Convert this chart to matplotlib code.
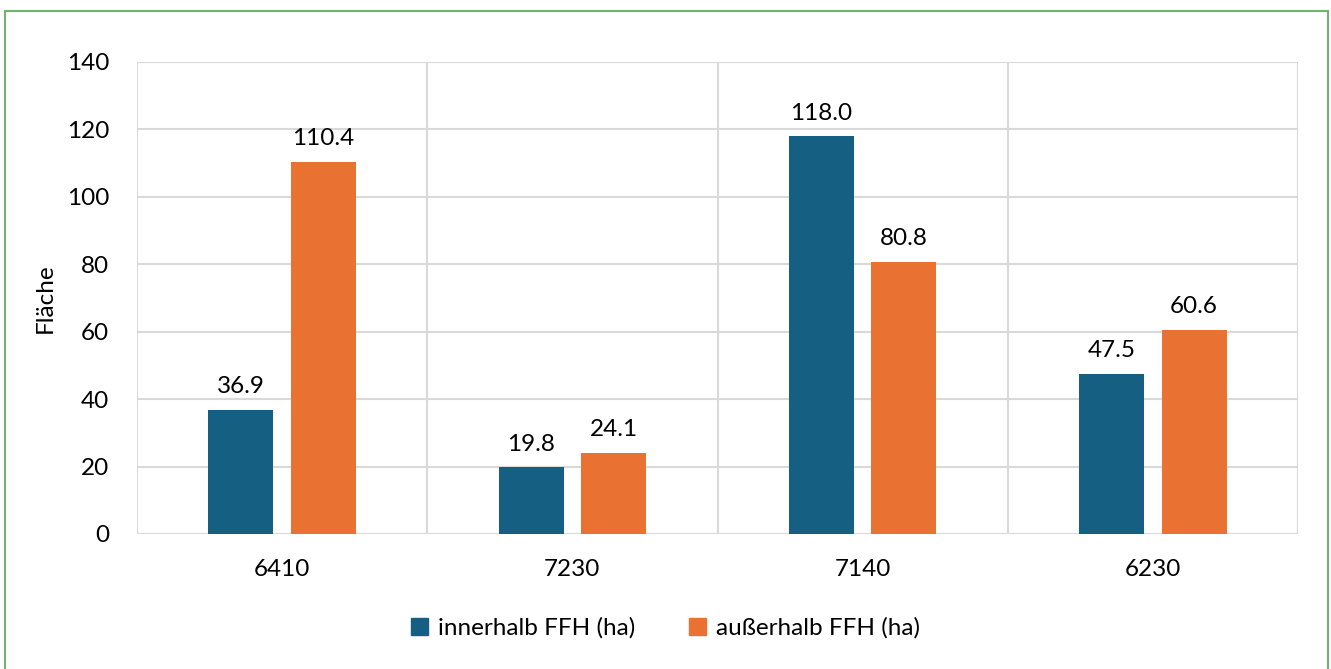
import matplotlib.pyplot as plt
import matplotlib.patches as mpatches
import numpy as np

plt.rcParams['font.family'] = ['Lato', 'DejaVu Sans']

categories = ['6410', '7230', '7140', '6230']
innerhalb = [36.9, 19.8, 118.0, 47.5]
ausserhalb = [110.4, 24.1, 80.8, 60.6]
series_names = ['innerhalb FFH (ha)', 'außerhalb FFH (ha)']
y_ticks = [0, 20, 40, 60, 80, 100, 120, 140]

blue = '#156082'
orange = '#E97132'
grid_color = '#D9D9D9'
fs = 17.5

fig = plt.figure(figsize=(13.31, 6.69), dpi=100)
ax = fig.add_axes([137 / 1331, (669 - 534) / 669, (1298 - 137) / 1331, (534 - 62) / 669])

x = np.arange(len(categories))
w = 0.224
off = 0.142
b1 = ax.bar(x - off, innerhalb, w, color=blue, label=series_names[0], zorder=3)
b2 = ax.bar(x + off, ausserhalb, w, color=orange, label=series_names[1], zorder=3)

for bars, vals in ((b1, innerhalb), (b2, ausserhalb)):
    for r, v in zip(bars, vals):
        ax.annotate(f'{v:.1f}', (r.get_x() + r.get_width() / 2, v),
                    xytext=(0, 9), textcoords='offset points',
                    ha='center', va='bottom', fontsize=fs, color='#000000')

ax.set_xlim(-0.5, len(categories) - 0.5)
ax.set_ylim(0, 140)
ax.set_yticks(y_ticks)
ax.set_yticklabels([str(t) for t in y_ticks], fontsize=fs)
ax.set_xticks(x)
ax.set_xticklabels(categories, fontsize=fs)
ax.tick_params(axis='both', length=0)
ax.tick_params(axis='x', pad=18)
ax.tick_params(axis='y', pad=20)

# horizontal grid plus vertical separators between categories
ax.yaxis.grid(True, color=grid_color, linewidth=1.5, zorder=0)
for b in np.arange(-0.5, len(categories), 1.0):
    ax.axvline(b, color=grid_color, linewidth=1.5, zorder=0)
for s in ax.spines.values():
    s.set_visible(False)
ax.axhline(0, color=grid_color, linewidth=1.5, zorder=1)

ax.set_ylabel('Fläche', fontsize=fs)
ax.yaxis.set_label_coords((56 - 137) / 1161, 0.5)

handles = [mpatches.Patch(color=blue), mpatches.Patch(color=orange)]
fig.legend(handles, series_names, loc='center', bbox_to_anchor=(0.5, (669 - 628) / 669),
           ncol=2, frameon=False, fontsize=fs, handlelength=0.7, handleheight=0.7,
           handletextpad=0.4, columnspacing=2.2)

# outer frame
fig.patches.append(mpatches.Rectangle((5 / 1331, -0.05), (1328 - 5) / 1331, (669 - 10.5) / 669 + 0.05,
                                      transform=fig.transFigure, fill=False,
                                      edgecolor='#6DB56D', linewidth=1.5))

fig.savefig('out.png', dpi=100)
